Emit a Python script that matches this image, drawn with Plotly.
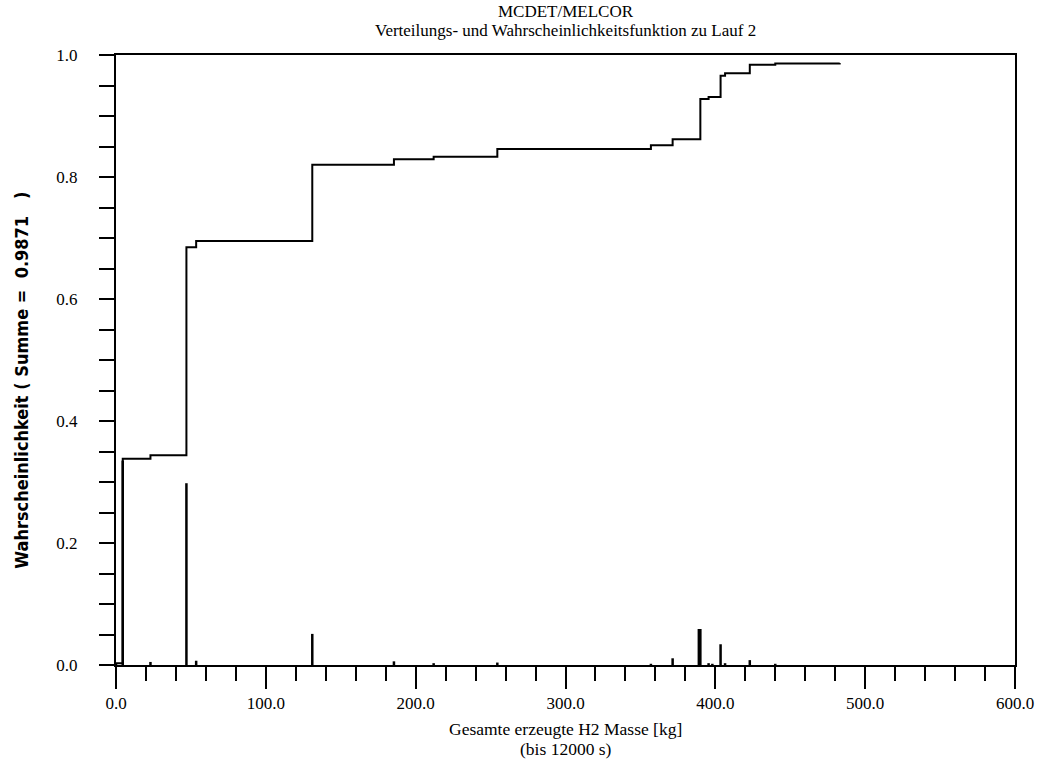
import plotly.graph_objects as go

# Cumulative distribution (step function): positions [kg] and cumulative probability after each step
cdf_x = [0.0, 4.5, 23.0, 47.0, 53.5, 131.0, 185.5, 212.0, 254.5, 357.0, 371.5,
         390.0, 395.5, 403.5, 406.5, 423.0, 440.0, 483.0]
cdf_y = [0.003, 0.338, 0.344, 0.685, 0.695, 0.820, 0.829, 0.833, 0.846, 0.852, 0.862,
         0.928, 0.931, 0.966, 0.970, 0.984, 0.986, 0.987]

# Probability function (vertical bars)
pmf_x = [0.0, 4.5, 23.0, 47.0, 53.5, 131.0, 185.5, 212.0, 254.5, 357.0, 371.5,
         389.0, 390.0, 395.5, 398.0, 403.5, 406.5, 423.0, 440.0]
pmf_y = [0.003, 0.335, 0.005, 0.298, 0.007, 0.051, 0.006, 0.003, 0.004, 0.002, 0.011,
         0.059, 0.059, 0.003, 0.002, 0.034, 0.003, 0.008, 0.002]

x_ticks = [0, 100, 200, 300, 400, 500, 600]
y_ticks = [0.0, 0.2, 0.4, 0.6, 0.8, 1.0]

title_lines = ["MCDET/MELCOR", "Verteilungs- und Wahrscheinlichkeitsfunktion zu Lauf 2"]
x_title_lines = ["Gesamte erzeugte H2 Masse [kg]", "(bis 12000 s)"]
y_title = "Wahrscheinlichkeit ( Summe =  0.9871   )"

serif = "Liberation Serif, Times New Roman, serif"

bx, by = [], []
for xv, yv in zip(pmf_x, pmf_y):
    bx += [xv, xv, None]
    by += [0, yv, None]

fig = go.Figure()
fig.add_trace(go.Scatter(x=bx, y=by, mode="lines",
                         line=dict(color="black", width=2.5), showlegend=False,
                         hoverinfo="skip"))
fig.add_trace(go.Scatter(x=cdf_x, y=cdf_y, mode="lines", line_shape="hv",
                         line=dict(color="black", width=2), showlegend=False))

fig.update_layout(
    width=1046, height=769,
    margin=dict(l=116, r=25, t=55, b=104),
    paper_bgcolor="white", plot_bgcolor="white",
    font=dict(family=serif, color="black", size=17),
    xaxis=dict(range=[0, 600], tickvals=x_ticks, tickformat=".1f",
               ticks="outside", ticklen=22, tickwidth=2, tickcolor="black",
               showline=True, linecolor="black", linewidth=2, mirror=True,
               showgrid=False, zeroline=False,
               minor=dict(dtick=20, ticks="outside", ticklen=14, tickwidth=2,
                          tickcolor="black", showgrid=False),
               tickfont=dict(family=serif, size=17)),
    yaxis=dict(range=[0, 1.0], tickvals=y_ticks, tickformat=".1f",
               ticks="outside", ticklen=15, tickwidth=2, tickcolor="black",
               showline=True, linecolor="black", linewidth=2, mirror=True,
               showgrid=False, zeroline=False,
               minor=dict(dtick=0.05, ticks="outside", ticklen=15, tickwidth=2,
                          tickcolor="black", showgrid=False),
               ticklabelstandoff=18,
               tickfont=dict(family=serif, size=17)),
)

def py2paper(py):
    return (665 - py) / 610.0

for txt, py in zip(title_lines, [12, 30]):
    fig.add_annotation(text=txt, xref="paper", yref="paper", x=0.5, y=py2paper(py),
                       xanchor="center", yanchor="middle", showarrow=False,
                       font=dict(family=serif, size=17, color="black"))

for txt, py in zip(x_title_lines, [729, 749]):
    fig.add_annotation(text=txt, xref="paper", yref="paper", x=0.5, y=py2paper(py),
                       xanchor="center", yanchor="middle", showarrow=False,
                       font=dict(family=serif, size=17.5, color="black"))

fig.add_annotation(text="<b>" + y_title + "</b>", textangle=-90,
                   xref="paper", yref="paper", x=-0.106, y=py2paper(380), xanchor="center",
                   yanchor="middle", showarrow=False,
                   font=dict(family="DejaVu Sans Condensed, Liberation Sans Narrow, sans-serif",
                             size=18, color="black"))

fig.write_html("out.html")
